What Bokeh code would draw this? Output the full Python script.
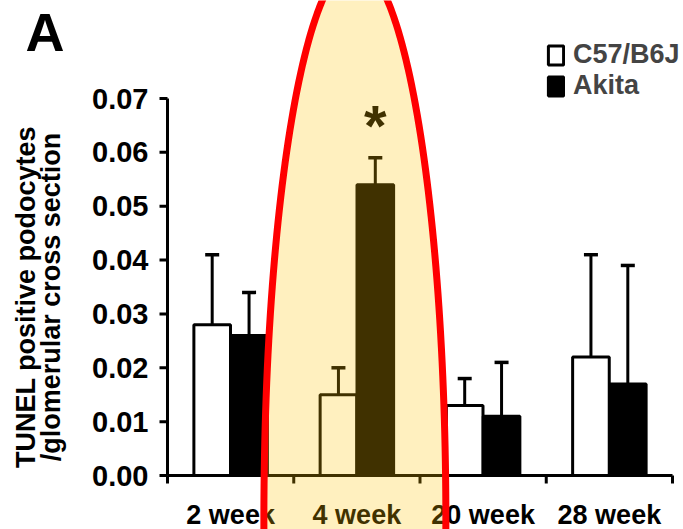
import numpy as np
from bokeh.plotting import figure
from bokeh.models import (Range1d, Whisker, TeeHead, ColumnDataSource,
                          Legend, LegendItem, PolyAnnotation)
from bokeh.core.properties import value
from bokeh.embed import file_html
from bokeh.resources import INLINE

# ---- data ----
weeks = ["2 week", "4 week", "20 week", "28 week"]
c57 = [0.028, 0.015, 0.013, 0.022]
c57_err = [0.013, 0.005, 0.005, 0.019]
akita = [0.026, 0.054, 0.011, 0.017]
akita_err = [0.008, 0.005, 0.010, 0.022]
yticks = [0.00, 0.01, 0.02, 0.03, 0.04, 0.05, 0.06, 0.07]
ytick_labels = ["0.00", "0.01", "0.02", "0.03", "0.04", "0.05", "0.06", "0.07"]
series_names = ["C57/B6J", "Akita"]
y_title = ["TUNEL positive podocytes", "/glomerular cross section"]
panel_letter = "A"
highlight_week = "4 week"
significant = ["4 week"]

# ---- layout (pixels) ----
FONT = "Liberation Sans"
W, H = 683, 529
X0, Y0 = 167, 475          # canvas pixel of the data origin (left, from top)
XPU, YPU = 126.25, 5385.7  # pixels per category / per unit of y
BAR_W = 0.29
OFF = 0.146

def dx(px):
    return px / XPU

def dy(px):
    return px / YPU

n = len(weeks)
centers = [i + 0.5 for i in range(n)]
bounds = list(range(n + 1))
x_c57 = [c - OFF for c in centers]
x_ak = [c + OFF for c in centers]

src_c = ColumnDataSource(dict(x=x_c57, top=c57, upper=[v + e for v, e in zip(c57, c57_err)]))
src_a = ColumnDataSource(dict(x=x_ak, top=akita, upper=[v + e for v, e in zip(akita, akita_err)]))

p = figure(width=W, height=H, output_backend="svg", toolbar_location=None,
           x_range=Range1d(-dx(X0), dx(W - X0)), y_range=Range1d(-dy(H - Y0), dy(Y0)),
           x_axis_location=None, y_axis_location=None, min_border=0)
p.outline_line_color = None
p.grid.visible = False
p.background_fill_color = "white"
p.border_fill_color = "white"

# error bars (upper only)
for src in (src_c, src_a):
    p.add_layout(Whisker(source=src, base="x", lower="top", upper="upper", dimension="height",
                         line_color="black", line_width=3, lower_head=None,
                         upper_head=TeeHead(size=14, line_width=3.5, line_color="black")))

r1 = p.vbar(x="x", top="top", width=BAR_W, source=src_c, fill_color="white",
            line_color="black", line_width=3)
r2 = p.vbar(x="x", top="top", width=BAR_W, source=src_a, fill_color="black",
            line_color="black", line_width=3)

# significance asterisk
sig_idx = [weeks.index(s) for s in significant]
p.text(x=[x_ak[i] for i in sig_idx], y=[akita[i] + akita_err[i] for i in sig_idx],
       text=["*"] * len(sig_idx), text_align="center", text_baseline="middle",
       y_offset=-32, text_font=value(FONT), text_font_style="bold",
       text_font_size="58px", text_color="black")

# ---- axes ----
# y axis
p.segment(x0=[0], y0=[yticks[0]], x1=[0], y1=[yticks[-1]], line_color="black", line_width=3)
p.ray(x=[0] * len(yticks), y=yticks, length=8, length_units="screen", angle=np.pi,
      line_color="black", line_width=3)
p.text(x=[0] * len(yticks), y=yticks, text=ytick_labels, x_offset=-19,
       text_align="right", text_baseline="middle", text_font=value(FONT),
       text_font_style="bold", text_font_size="29px", text_color="black")
# y title (two lines, rotated)
p.text(x=[-dx(142), -dx(117)], y=[(yticks[0] + yticks[-1]) / 2 - dy(10)] * 2, text=y_title,
       angle=np.pi / 2, text_align="center", text_baseline="middle",
       text_font=value(FONT), text_font_style="bold", text_font_size="27px",
       text_color="black")
# x axis
p.segment(x0=[bounds[0]], y0=[0], x1=[bounds[-1]], y1=[0], line_color="black", line_width=3)
p.ray(x=bounds, y=[0] * len(bounds), length=8, length_units="screen", angle=-np.pi / 2,
      line_color="black", line_width=3)
p.text(x=centers, y=[0] * n, text=weeks, y_offset=39, text_align="center",
       text_baseline="middle", text_font=value(FONT), text_font_style="bold",
       text_font_size="27px", text_color="black")

# legend
legend = Legend(items=[LegendItem(label=series_names[0], renderers=[r1]),
                       LegendItem(label=series_names[1], renderers=[r2])],
                location=(546, 428), orientation="vertical",
                border_line_color=None, background_fill_alpha=0,
                label_text_font=FONT, label_text_font_style="bold",
                label_text_font_size="27px", glyph_width=19, glyph_height=24,
                label_standoff=8, spacing=0, padding=0, margin=0)
p.add_layout(legend)

# panel letter
p.text(x=[-dx(X0 - 25)], y=[dy(Y0 - 31)], text=[panel_letter], text_align="left",
       text_baseline="middle", text_font=value(FONT), text_font_style="bold",
       text_font_size="54px", text_color="black")

# highlight ellipse around the 4 week group
hi = weeks.index(highlight_week) + 0.5
cx, cy, a, b = hi - dx(2), -dy(45), dx(91), dy(557)
t = np.linspace(0, 2 * np.pi, 240)
p.add_layout(PolyAnnotation(xs=list(cx + a * np.cos(t)), ys=list(cy + b * np.sin(t)),
                            fill_color="#FFC200", fill_alpha=0.25,
                            line_color="#FF0000", line_alpha=1.0, line_width=7,
                            level="overlay"))

open("out.html", "w").write(file_html(p, INLINE))
